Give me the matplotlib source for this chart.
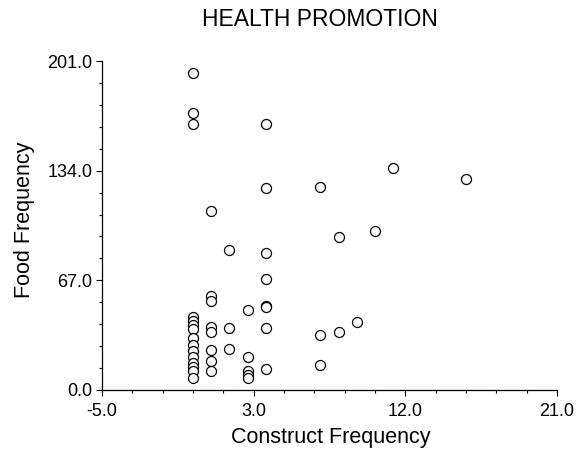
import matplotlib
matplotlib.use("Agg")
import matplotlib.pyplot as plt
import numpy as np

plt.rcParams['font.family'] = ['Liberation Sans', 'DejaVu Sans']

title = "HEALTH PROMOTION"
x_label = "Construct Frequency"
y_label = "Food Frequency"

construct_freq = (
    [0] * 15 + [1] * 8 + [2] * 3 + [3] * 5 + [4] * 8 +
    [7] * 3 + [8] * 2 + [9] + [10] + [11] + [15]
)
food_freq = [
    193.8, 169.4, 162.5, 44.6, 42.2, 39.7, 37.3, 31.8, 27.5, 23.8, 20.2, 16.5, 14.1, 11.6, 7.3,
    109.4, 57.4, 54.5, 38.7, 35.4, 24.2, 17.8, 11.5,
    85.4, 38.1, 25.0,
    48.9, 20.0, 11.5, 9.2, 7.2,
    162.3, 123.5, 84.0, 67.7, 51.3, 50.5, 37.8, 12.9,
    123.8, 33.3, 15.3,
    93.6, 35.2,
    41.4,
    97.3,
    135.5,
    128.9,
]

x_tick_labels = ["-5.0", "3.0", "12.0", "21.0"]
y_tick_labels = ["0.0", "67.0", "134.0", "201.0"]
x_range = (-5, 20)
y_range = (0, 201)

fig = plt.figure(figsize=(5.81, 4.55), dpi=100)
ax = fig.add_axes([102 / 581, 1 - 390 / 455, 455 / 581, 329 / 455])

ax.plot(construct_freq, food_freq, linestyle='none', marker='o', ms=7.2,
        mfc='white', mec='black', mew=0.9, clip_on=False)

ax.set_xlim(*x_range)
ax.set_ylim(*y_range)
ax.set_xticks(np.linspace(x_range[0], x_range[1], 4))
ax.set_xticklabels(x_tick_labels)
ax.set_xticks(np.linspace(x_range[0], x_range[1], 16), minor=True)
ax.set_yticks(np.linspace(y_range[0], y_range[1], 4))
ax.set_yticklabels(y_tick_labels)
ax.set_yticks(np.linspace(y_range[0], y_range[1], 16), minor=True)

for s in ['top', 'right']:
    ax.spines[s].set_visible(False)
for s in ['left', 'bottom']:
    ax.spines[s].set_linewidth(0.9)
    ax.spines[s].set_color('black')

ax.tick_params(which='major', direction='out', length=4, width=0.8,
               labelsize=13, colors='black')
ax.tick_params(which='minor', direction='out', length=2.5, width=0.8)
ax.tick_params(axis='x', which='major', pad=5)
ax.tick_params(axis='y', which='major', pad=3)

fig.text(320 / 581, 1 - 20 / 455, title, ha='center', va='center', fontsize=16.5)
fig.text(331 / 581, 1 - 437 / 455, x_label, ha='center', va='center', fontsize=15.5)
fig.text(25 / 581, 1 - 220 / 455, y_label, ha='center', va='center',
         rotation=90, fontsize=15.5)

fig.savefig("out.png", dpi=100)
